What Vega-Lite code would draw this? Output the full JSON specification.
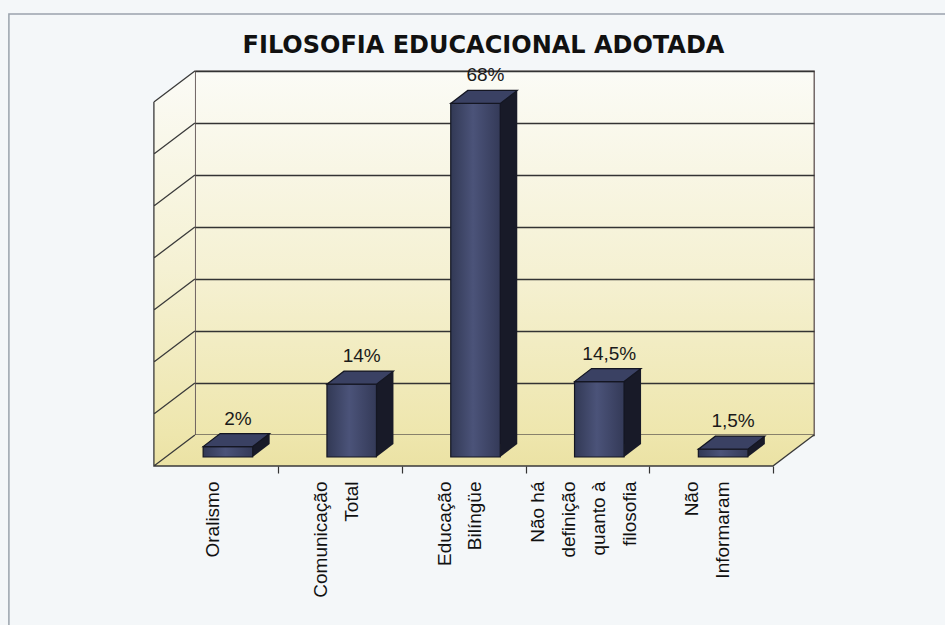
{
  "$schema": "https://vega.github.io/schema/vega-lite/v6.json",
  "width": 619,
  "height": 364,
  "autosize": {"type": "none"},
  "padding": {"left": 195, "top": 71, "right": 131, "bottom": 190},
  "background": "#f4f7f9",
  "view": {
    "fill": {"gradient": "linear", "x1": 0, "y1": 0, "x2": 0, "y2": 1,
      "stops": [{"offset": 0, "color": "#fbfbf6"}, {"offset": 0.55, "color": "#f5f1d3"}, {"offset": 1, "color": "#eee6ad"}]},
    "stroke": "#5e5252",
    "strokeWidth": 1.3
  },
  "title": {
    "text": "FILOSOFIA EDUCACIONAL ADOTADA",
    "font": "DejaVu Sans",
    "fontSize": 24,
    "fontWeight": "bold",
    "color": "#111111",
    "anchor": "middle",
    "frame": "group",
    "dx": -21,
    "offset": -47
  },
  "data": {
    "values": [
      {"cat": "Oralismo", "v": 2, "label": "2%"},
      {"cat": "Comunicação\nTotal", "v": 14, "label": "14%"},
      {"cat": "Educação\nBilíngüe", "v": 68, "label": "68%"},
      {"cat": "Não há\ndefinição\nquanto à\nfilosofia", "v": 14.5, "label": "14,5%"},
      {"cat": "Não\nInformaram", "v": 1.5, "label": "1,5%"}
    ]
  },
  "encoding": {
    "x": {
      "field": "cat", "type": "nominal", "sort": null,
      "scale": {"paddingInner": 0.6, "paddingOuter": 0.3},
      "axis": {
        "title": null, "orient": "bottom", "offset": 31, "domain": false,
        "ticks": true, "tickSize": 7, "tickColor": "#333333", "tickWidth": 1.2,
        "bandPosition": 0.5, "tickOffset": 21.1,
        "labelOffset": {
          "condition": [
            {"test": "length(split(datum.value, '\\n')) == 4", "value": -111.75},
            {"test": "length(split(datum.value, '\\n')) == 2", "value": -81.25}
          ],
          "value": -66
        },
        "labelAngle": 270, "labelAlign": "right", "labelBaseline": "middle",
        "labelPadding": 8, "labelFont": "Liberation Sans", "labelFontSize": 19,
        "labelColor": "#111111", "labelLineHeight": 30.5,
        "labelExpr": "split(datum.label, '\\n')",
        "grid": false, "labelOverlap": false, "labelBound": false
      }
    },
    "y": {
      "field": "v", "type": "quantitative",
      "scale": {"domain": [0, 70], "nice": false, "zero": true},
      "axis": {
        "title": null, "labels": false, "ticks": false, "domain": false,
        "grid": true, "gridColor": "#333333", "gridWidth": 1.3,
        "values": [0, 10, 20, 30, 40, 50, 60, 70]
      }
    }
  },
  "layer": [
    {
      "transform": [{"filter": "datum.cat == 'Oralismo'"}],
      "mark": {
        "type": "point", "filled": true, "opacity": 1, "size": 4, "strokeWidth": 0,
        "shape": "M-62,-364L-103,-333L-103,31L516,31L557,0L-62,0Z",
        "fill": {"gradient": "linear", "x1": 0, "y1": 0, "x2": 0, "y2": 1,
          "stops": [{"offset": 0, "color": "#fbfbf6"}, {"offset": 0.5, "color": "#f5f1d3"}, {"offset": 0.92, "color": "#eee6ad"}, {"offset": 1, "color": "#ebe2a4"}]}
      },
      "encoding": {"y": {"datum": 0, "type": "quantitative"}}
    },
    {
      "transform": [{"filter": "datum.cat == 'Oralismo'"}],
      "mark": {
        "type": "point", "filled": false, "opacity": 1, "size": 4,
        "stroke": "#3a3a3a", "strokeWidth": 1.3,
        "shape": "M-103,-333L-103,31L516,31L557,0M-62,-364L-103,-333M-62,0L-103,31M-62,-52L-103,-21M-62,-104L-103,-73M-62,-156L-103,-125M-62,-208L-103,-177M-62,-260L-103,-229M-62,-312L-103,-281"
      },
      "encoding": {"y": {"datum": 0, "type": "quantitative"}}
    },
    {
      "transform": [{"filter": "datum.cat == 'Oralismo'"}],
      "mark": {
        "type": "point", "filled": false, "opacity": 1, "size": 4,
        "stroke": "#9aa3ad", "strokeWidth": 1.5,
        "shape": "M-248,-421L700,-421L700,200L-248,200Z"
      },
      "encoding": {"y": {"datum": 0, "type": "quantitative"}}
    },
    {
      "mark": {"type": "bar", "fill": "#181a28", "strokeWidth": 0, "xOffset": -12, "yOffset": 9}
    },
    {
      "mark": {
        "type": "point", "filled": true, "opacity": 1, "size": 4,
        "fill": "#181a28", "strokeWidth": 0, "xOffset": -29, "yOffset": 22,
        "shape": "M24.75,0L41.75,-13L24.75,-13Z"
      },
      "encoding": {"y": {"datum": 0, "type": "quantitative"}}
    },
    {
      "mark": {
        "type": "bar", "stroke": "#141622", "strokeWidth": 1.2, "xOffset": -29, "yOffset": 22,
        "fill": {"gradient": "linear", "x1": 0, "y1": 0, "x2": 1, "y2": 0,
          "stops": [{"offset": 0, "color": "#323955"}, {"offset": 0.45, "color": "#4b5379"}, {"offset": 1, "color": "#343a58"}]}
      }
    },
    {
      "mark": {
        "type": "point", "filled": true, "opacity": 1, "size": 4,
        "fill": "#3a4163", "stroke": "#141622", "strokeWidth": 1.2, "xOffset": -29, "yOffset": 22,
        "shape": "M-24.75,0L24.75,0L41.75,-13L-7.75,-13Z"
      }
    },
    {
      "mark": {
        "type": "text", "font": "Liberation Sans", "fontSize": 19, "color": "#1a1a1a",
        "baseline": "middle", "align": "center", "xOffset": -19, "yOffset": -6
      },
      "encoding": {"text": {"field": "label"}}
    }
  ]
}
